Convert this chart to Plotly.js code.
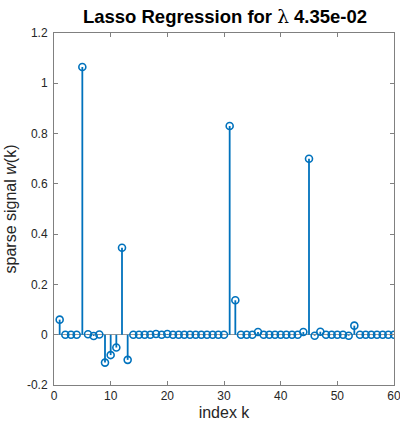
<!DOCTYPE html>
<html>
<head>
<meta charset="utf-8">
<script src="https://cdn.plot.ly/plotly-3.0.1.min.js"></script>
<style>html,body{margin:0;padding:0;background:#fff;}#chart{width:400px;height:425px;}</style>
</head>
<body>
<div id="chart"></div>
<script>
const indexK = Array.from({length: 60}, (_, i) => i + 1);
const weights = [
  0.060, 0, 0, 0, 1.065, 0.002, -0.005, 0.001, -0.111, -0.081,
  -0.051, 0.346, -0.100, 0, 0, 0, 0, 0.003, 0, 0.003,
  0, 0, 0, 0, 0, 0, 0, 0, 0, 0,
  0.830, 0.137, 0, 0, 0, 0.011, 0, 0, 0, 0,
  0, 0, 0, 0.011, 0.700, -0.004, 0.012, 0, 0, 0,
  0, -0.004, 0.036, 0, 0, 0, 0, 0, 0, 0
];
const xTicks = [0, 10, 20, 30, 40, 50, 60];
const yTicks = [-0.2, 0, 0.2, 0.4, 0.6, 0.8, 1, 1.2];

const stemX = [], stemY = [];
indexK.forEach((k, i) => { stemX.push(k, k, null); stemY.push(0, weights[i], null); });

const blue = '#0072BD';
const axisCol = '#262626';
const traces = [
  {x: stemX, y: stemY, mode: 'lines', line: {color: blue, width: 1.8}, hoverinfo: 'skip', showlegend: false},
  {x: indexK, y: weights, mode: 'markers', marker: {symbol: 'circle-open', size: 7, color: blue, line: {width: 1.6, color: blue}}, showlegend: false}
];
const axCommon = {
  showgrid: false, showline: true, mirror: 'ticks', linecolor: '#808080', linewidth: 1,
  ticks: 'inside', ticklen: 4, tickcolor: '#808080', ticklabeloverflow: 'allow',
  tickfont: {family: 'Liberation Sans, Arial, sans-serif', size: 12, color: axisCol}
};
const layout = {
  width: 400, height: 425,
  margin: {l: 54, r: 6, t: 33, b: 40},
  paper_bgcolor: '#fff', plot_bgcolor: '#fff',
  title: {
    text: '<b>Lasso Regression for </b><span style="font-family:\'DejaVu Serif\', serif">λ</span><b> 4.35e-02</b>',
    font: {family: 'Liberation Sans, Arial, sans-serif', size: 18.5, color: '#000'},
    x: 0.5625, xanchor: 'center', y: 0.96, yanchor: 'middle'
  },
  xaxis: Object.assign({}, axCommon, {
    range: [0, 60], tickvals: xTicks, ticktext: xTicks.map(String), zeroline: false,
    title: {text: 'index k', font: {family: 'Liberation Sans, Arial, sans-serif', size: 16, color: axisCol}, standoff: 4}
  }),
  yaxis: Object.assign({}, axCommon, {
    range: [-0.2, 1.2], tickvals: yTicks, ticktext: yTicks.map(v => String(v)),
    ticklabelstandoff: 3,
    zeroline: true, zerolinecolor: '#9a9a9a', zerolinewidth: 1,
    title: {text: 'sparse signal <i>w</i>(k)', font: {family: 'Liberation Sans, Arial, sans-serif', size: 16, color: axisCol}, standoff: 6}
  })
};
Plotly.newPlot('chart', traces, layout, {displayModeBar: false, staticPlot: true});
</script>
</body>
</html>
